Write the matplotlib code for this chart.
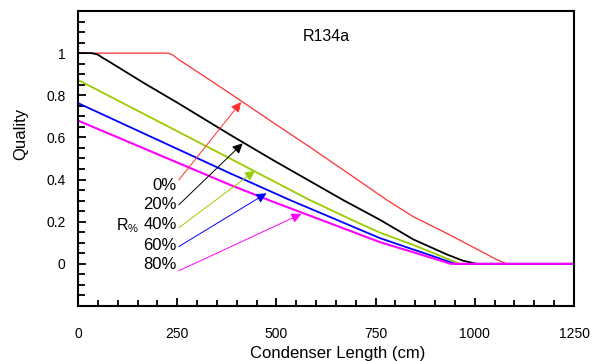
import matplotlib.pyplot as plt
import numpy as np

plt.rcParams['font.family'] = ['Liberation Sans', 'DejaVu Sans']
plt.rcParams['mathtext.fontset'] = 'custom'
plt.rcParams['mathtext.rm'] = 'Liberation Sans'
plt.rcParams['mathtext.it'] = 'Liberation Sans'

# curves: condenser length (cm) vs quality
x_r0 = [0, 228, 240, 252, 302, 383, 500, 583, 700, 778, 845, 929, 1000, 1050, 1080, 1250]
q_r0 = [1, 1, 0.99, 0.972, 0.91, 0.809, 0.66, 0.556, 0.405, 0.303, 0.224, 0.145, 0.075, 0.025, 0, 0]
x_r20 = [0, 35, 50, 63, 80, 168, 252, 383, 491, 668, 761, 845, 929, 970, 1005, 1250]
q_r20 = [1, 1, 0.993, 0.977, 0.958, 0.856, 0.763, 0.613, 0.493, 0.303, 0.209, 0.116, 0.045, 0.015, 0, 0]
x_r40 = [0, 383, 584, 700, 761, 845, 910, 962, 1250]
q_r40 = [0.873, 0.50, 0.303, 0.20, 0.148, 0.09, 0.04, 0, 0]
x_r60 = [0, 383, 534, 761, 845, 900, 950, 1250]
q_r60 = [0.763, 0.43, 0.303, 0.122, 0.068, 0.033, 0, 0]
x_r80 = [0, 383, 484, 761, 845, 940, 1250]
q_r80 = [0.68, 0.375, 0.30, 0.103, 0.055, 0, 0]

labels = ['0%', '20%', '40%', '60%', '80%']
colors = ['#ff3030', 'black', '#99cc00', '#0000ff', '#ff00ff']
widths = [0.9, 1.3, 1.3, 1.3, 1.5]
label_y = [0.374, 0.28, 0.185, 0.085, -0.005]
tail_y = [0.398, 0.28, 0.171, 0.082, -0.033]
tip_x = [411, 415, 446, 475, 563]
tip_y = [0.768, 0.572, 0.442, 0.335, 0.237]

fig = plt.figure(figsize=(6, 3.61), dpi=100)
ax = fig.add_axes([0.13, 0.1524, 0.8267, 0.8171])

curves = [(x_r0, q_r0), (x_r20, q_r20), (x_r40, q_r40), (x_r60, q_r60), (x_r80, q_r80)]
for (xs, qs), c, w in zip(curves, colors, widths):
    ax.plot(xs, qs, color=c, lw=w, solid_joinstyle='round')

for lab, ly, ty, tx, tyy, c in zip(labels, label_y, tail_y, tip_x, tip_y, colors):
    ax.text(249, ly, lab, ha='right', va='center', fontsize=12)
    ax.annotate('', xy=(tx, tyy), xytext=(254, ty),
                arrowprops=dict(arrowstyle='-|>,head_length=0.5,head_width=0.25',
                                color=c, lw=0.7, shrinkA=0, shrinkB=0,
                                mutation_scale=12))

ax.text(96, 0.182, r'R$_{\%}$', ha='left', va='center', fontsize=11.5)
ax.text(625, 1.077, 'R134a', ha='center', va='center', fontsize=11.5)

ax.set_xlim(0, 1250)
ax.set_ylim(-0.2, 1.2)
ax.set_xticks([0, 250, 500, 750, 1000, 1250])
ax.set_xticks(np.arange(0, 1251, 50), minor=True)
ax.set_yticks([0, 0.2, 0.4, 0.6, 0.8, 1])
ax.set_yticklabels(['0', '0.2', '0.4', '0.6', '0.8', '1'])
ax.set_yticks(np.arange(-0.2, 1.201, 0.05), minor=True)
ax.tick_params(axis='both', which='both', direction='in', width=1.3,
               labelsize=10, top=False, right=False)
ax.tick_params(axis='x', which='major', length=6, pad=15)
ax.tick_params(axis='x', which='minor', length=4)
ax.tick_params(axis='y', which='major', length=6, pad=9)
ax.tick_params(axis='y', which='minor', length=5)
for sp in ax.spines.values():
    sp.set_linewidth(1.5)

ax.set_xlabel('Condenser Length (cm)', fontsize=12)
ax.xaxis.set_label_coords(0.524, -0.135)
ax.set_ylabel('Quality', fontsize=12)
ax.yaxis.set_label_coords(-0.1, 0.583)

fig.savefig('out.png', dpi=100)
